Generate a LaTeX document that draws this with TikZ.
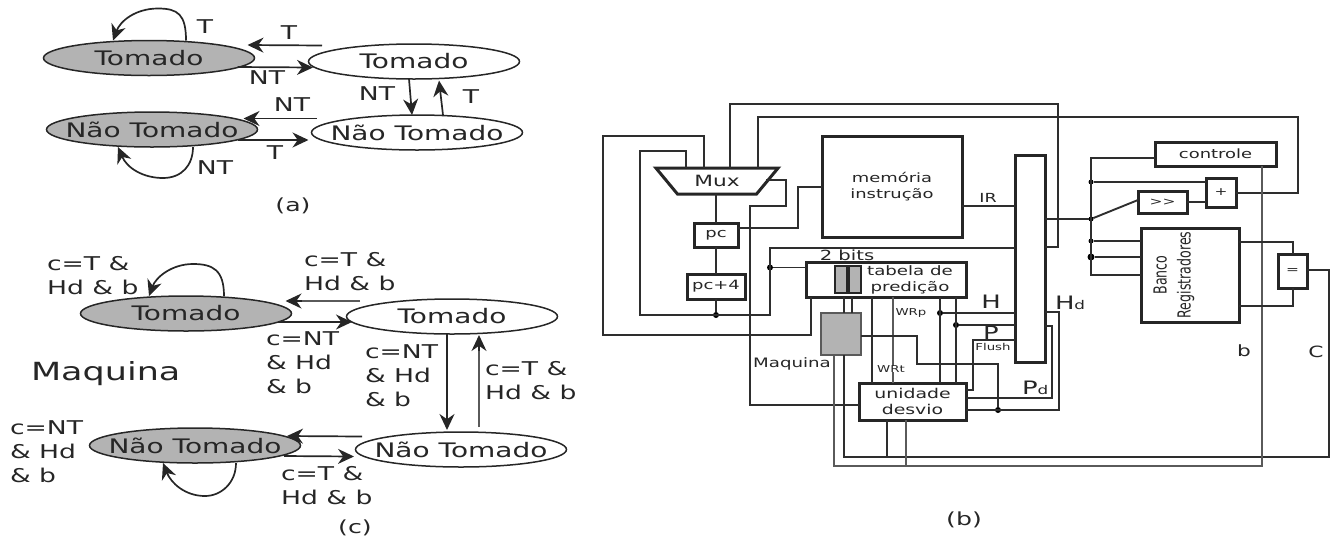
\documentclass[tikz,border=0pt]{standalone}
\usepackage{fontspec}
\setmainfont[FakeStretch=1.4]{DejaVu Sans}
\newfontfamily\rotfont[FakeStretch=0.7]{DejaVu Sans}
\usetikzlibrary{shapes.geometric,arrows.meta,calc}
\definecolor{ink}{HTML}{262626}
\definecolor{shade}{HTML}{B3B3B3}
\definecolor{wire}{HTML}{2E2E2E}
\definecolor{greywire}{HTML}{5A5A5A}
\newcommand{\fsz}[1]{\fontsize{#1}{24}\selectfont}
\newcommand{\sbd}{{\fontsize{12}{12}\selectfont d}}
\tikzset{
  every node/.style={inner sep=0pt,outer sep=0pt,text=ink},
  st/.style={ellipse,draw=ink,line width=1.5pt,fill=white,minimum width=211,minimum height=35,font=\fsz{20}},
  stg/.style={st,fill=shade},
  arr/.style={draw=ink,line width=1.7pt,-{Stealth[length=16pt,width=15pt]}},
  garr/.style={arr,draw=greywire},
  lab/.style={font=\fsz{19},align=left,anchor=west},
  captxt/.style={font=\fsz{18}},
  box/.style={draw=ink,line width=3pt,fill=white,font=\fsz{12.8},align=center},
  wl/.style={draw=wire,line width=1.9pt},
  gw/.style={draw=greywire,line width=2.1pt},
  jdot/.style={circle,fill=black,minimum size=7pt},
  smalltxt/.style={font=\fsz{9.5}},
  bigtxt/.style={font=\fsz{18.5}}
}
\begin{document}
\begin{tikzpicture}[x=1pt,y=-1pt]
\useasboundingbox (0,0) rectangle (1330,542);
% ----- (a)
\node[stg] (A) at (149,58) {\makebox[0pt]{Tomado}};
\node[st] (B) at (414,61.5) {\makebox[0pt]{Tomado}};
\node[stg] (C) at (152,129.5) {\makebox[0pt]{Não Tomado}};
\node[st] (D) at (417,132.5) {\makebox[0pt]{Não Tomado}};
\draw[arr] ($(A.north)+(37,0)$) .. controls +(0,-26) and +(20,0) .. ($(A.north)+(9,-32)$) .. controls +(-23,0) and +(7,-19) .. ($(A.north)+(-36,0)$);
\draw[arr] ($(C.south)+(41,0)$) .. controls +(0,18) and +(19,0) .. ($(C.south)+(11,31)$) .. controls +(-20,0) and +(9,21) .. ($(C.south)+(-34,0)$);
\draw[arr] ($(B.west)+(13.5,-16)$) -- ($(A.east)+(-7,-13)$);
\draw[arr] ($(A.east)+(-17,9)$) -- ($(B.west)+(4.5,6)$);
\draw[arr] ($(B.south)+(-5,0)$) -- ($(D.north)+(-5,0)$);
\draw[arr] ($(D.north)+(26,0)$) -- ($(B.south)+(25,1.5)$);
\draw[arr] ($(D.west)+(5,-14)$) -- ($(C.east)+(-14,-11)$);
\draw[arr] ($(C.east)+(-20,10.5)$) -- ($(D.west)+(-3,7.5)$);
\node[lab,anchor=center] (at1) at (205,27) {T};
\node[lab,anchor=center] (at2) at (289,33) {T};
\node[lab,anchor=center] (at3) at (267,78) {NT};
\node[lab,anchor=center] (at4) at (377,94) {NT};
\node[lab,anchor=center] (at5) at (471,97) {T};
\node[lab,anchor=center] (at6) at (292,105) {NT};
\node[lab,anchor=center] (at7) at (275,153) {T};
\node[lab,anchor=center] (at8) at (215,168) {NT};
\node[captxt] (capa) at (293,206) {(a)};
% ----- (c)
\node[stg] (E) at (186,313.5) {\makebox[0pt]{Tomado}};
\node[st] (F) at (452,316.5) {\makebox[0pt]{Tomado}};
\node[stg] (G) at (195,445.5) {\makebox[0pt]{Não Tomado}};
\node[st] (H) at (461,449.5) {\makebox[0pt]{Não Tomado}};
\draw[arr] ($(E.north)+(38,0)$) .. controls +(0,-26) and +(20,0) .. ($(E.north)+(7,-32)$) .. controls +(-21,0) and +(7,-19) .. ($(E.north)+(-37,0)$);
\draw[arr] ($(G.south)+(41,0)$) .. controls +(0,20) and +(16,0) .. ($(G.south)+(10,33)$) .. controls +(-20,0) and +(8,20) .. ($(G.south)+(-32,0)$);
\draw[draw=greywire,line width=1.7pt] ($(F.west)+(13.5,-15.5)$) -- ($(E.east)+(10,-12.5)$);
\draw[arr] ($(E.east)+(10,-12.5)$) -- ($(E.east)+(-6,-12.5)$);
\draw[arr] ($(E.east)+(-13.5,8.5)$) -- ($(F.west)+(5.5,5.5)$);
\draw[arr] ($(F.south)+(-5,0)$) -- ($(H.north)+(-14,-2)$);
\draw[draw=greywire,line width=1.7pt] ($(H.north)+(18,-5)$) -- ($(F.south)+(27,17)$);
\draw[arr] ($(F.south)+(27,17)$) -- ($(F.south)+(27,1)$);
\draw[arr] ($(H.west)+(6.5,-13)$) -- ($(G.east)+(-13.5,-9.5)$);
\draw[arr] ($(G.east)+(-16.5,10.5)$) -- ($(H.west)+(-1.5,7)$);
\node[lab] (cl1) at (47,276) {c=T \&\\Hd \& b};
\node[lab] (cl2) at (304,271.5) {c=T \&\\Hd \& b};
\node[lab] (cl3) at (266,363) {c=NT\\\& Hd\\\& b};
\node[lab] (cl4) at (365,376) {c=NT\\\& Hd\\\& b};
\node[lab] (cl5) at (485,381) {c=T \&\\Hd \& b};
\node[lab] (cl6) at (10,452) {c=NT\\\& Hd\\\& b};
\node[lab] (cl7) at (281,486) {c=T \&\\Hd \& b};
\node[font=\fsz{25},anchor=west] (maq) at (31,374) {Maquina};
\node[captxt] (capc) at (355,528) {(c)};
% ----- (b) boxes
\node[trapezium,shape border rotate=180,trapezium stretches=true,trapezium left angle=43,trapezium right angle=43,draw=ink,line width=3pt,fill=white,minimum width=123,minimum height=26,font=\fsz{15.5}] (mux) at (717,181) {Mux};
\node[box,minimum width=44,minimum height=24] (pc) at (716,235) {pc};
\node[box,minimum width=58,minimum height=25] (pc4) at (716,286.5) {pc+4};
\node[box,minimum width=140,minimum height=101] (mem) at (892,186.5) {memória\\[-8pt]instrução};
\node[box,minimum width=30,minimum height=207] (bar) at (1030,258.5) {};
\node[box,minimum width=160,minimum height=35] (tab) at (886,279.5) {};
\node[font=\fsz{13},align=center] (tabtxt) at (910,279.5) {tabela de\\[-8pt]predição};
\node[draw=ink,line width=1.6pt,fill=shade,minimum width=12,minimum height=27] (b1) at (841,279.5) {};
\node[draw=ink,line width=1.6pt,fill=shade,minimum width=12,minimum height=27] (b2) at (855,279.5) {};
\node[font=\fsz{14}] (bits) at (847,255) {2 bits};
\node[draw=greywire,line width=2pt,fill=shade,minimum width=40,minimum height=42] (maqbox) at (841,334) {};
\node[font=\fsz{13}] (maqtxt) at (792,364) {Maquina};
\node[box,minimum width=107,minimum height=37,font=\fsz{13.5}] (uni) at (912.5,401.5) {unidade\\[-8pt]desvio};
\node[box,minimum width=121,minimum height=24] (ctl) at (1215.5,154) {controle};
\node[box,minimum width=30,minimum height=29,font=\fsz{11}] (plus) at (1221,192.5) {+};
\node[box,minimum width=49,minimum height=22,font=\fsz{11}] (shr) at (1162.5,202) {{>}{>}};
\node[box,minimum width=98,minimum height=94] (bank) at (1190,275) {};
\node[rotate=90,align=center,font=\rotfont\fontsize{18}{24}\selectfont] (banktxt) at (1174,275) {Banco\\Registradores};
\node[box,minimum width=29,minimum height=34,font=\fsz{11}] (eq) at (1292.5,271) {=};
% junctions
\node[jdot,minimum size=6pt] (j1) at (716,315) {};
\node[jdot,minimum size=6pt] (j2) at (770,267.5) {};
\node[jdot,minimum size=6pt] (j3) at (940,313) {};
\node[jdot,minimum size=6pt] (j4) at (956,325) {};
\node[jdot,minimum size=6pt] (j5) at (998,410) {};
\node[jdot,minimum size=5pt] (j6) at (1091,182) {};
\node[jdot,minimum size=5pt] (j7) at (1091,219) {};
\node[jdot,minimum size=5pt] (j8) at (1091,241) {};
\node[jdot,minimum size=7pt] (j9) at (1091,257) {};
% mux ports
\coordinate (m1) at (686,168);
\coordinate (m2) at (704,168);
\coordinate (m3) at (730,168);
\coordinate (m4) at (758,168);
\coordinate (m5) at (766,180);
% wires
\draw[wl] (m2) |- (603,136) |- (811,335) -- (tab.south -| 811,0);
\draw[wl] (m1) |- (640,151) |- (j1.center) -| (770,248) -- (bar.west |- 0,248);
\draw[wl] (m3) |- (1058,104) |- (bar.east |- 0,247);
\draw[wl] (m4) |- (1298,117) |- (plus.east |- 0,193);
\draw[wl] (m5) -| (786,206) -| (750,405) -- (uni.west |- 0,405);
\draw[wl] (mux.south -| 716,0) -- (pc.north);
\draw[wl] (pc.south) -- (pc4.north);
\draw[wl] (pc4.south) -- (j1);
\draw[wl] (pc.east |- 0,228) -| (798,187) -- (mem.west |- 0,187);
\draw[wl] (mem.east |- 0,206) -- (bar.west |- 0,206);
\draw[wl] (j2) -- (tab.west |- j2);
\draw[wl] (tab.south -| 844,0) -- (maqbox.north -| 844,0);
\draw[wl] (tab.south -| 852,0) -- (maqbox.north -| 852,0);
\draw[wl] (tab.south -| 872,0) -- (uni.north -| 872,0);
\draw[gw] (tab.south -| 893,0) -- (uni.north -| 893,0);
\draw[wl] (tab.south -| j3) -- (uni.north -| j3);
\draw[wl] (tab.south -| j4) -- (uni.north -| j4);
\draw[wl] (j3) -- (bar.west |- j3);
\draw[wl] (j4) -- (bar.west |- j4);
\draw[wl] (uni.east |- 0,390) -| (973,340) -- (bar.west |- 0,340);
\draw[wl] (maqbox.east |- 0,336) -| (917,364) -| (j5);
\draw[wl] (bar.east |- 0,312) -| (1059,410) -- (uni.east |- 0,410);
\draw[wl] (bar.east |- 0,326) -| (1052,398) -- (uni.east |- 0,398);
\draw[wl] (uni.south -| 887,0) -- (887,457);
\draw[wl] (maqbox.south -| 844,0) |- (1329,457) |- (eq.east |- 0,270);
\draw[gw] (maqbox.south -| 834,0) |- (1262,466) -- (ctl.south -| 1262,0);
\draw[gw] (uni.south -| 906,0) -- (906,466);
\draw[wl] (ctl.west |- 0,158) -| (1091,275) -- (bank.west |- 0,275);
\draw[wl] (j6) -- (plus.west |- j6);
\draw[wl] (bar.east |- j7) -- (j7);
\draw[wl] (j7) -- (shr.west |- 0,200);
\draw[wl] (shr.east |- 0,202) -- (plus.west |- 0,202);
\draw[wl] (j8) -- (bank.west |- j8);
\draw[wl] (j9) -- (bank.west |- j9);
\draw[wl] (bank.east |- 0,242) -| (eq.north -| 1293,0);
\draw[wl] (bank.east |- 0,306) -| (eq.south -| 1293,0);
% texts
\node[font=\fsz{12.5}] (ir) at (988,198) {IR};
\node[bigtxt] (hl) at (991,302) {H};
\node[bigtxt] (pl) at (991,333) {P};
\node[smalltxt] (fl) at (993,347) {Flush};
\node[smalltxt] (wrp) at (911,313) {WRp};
\node[smalltxt,fill=white] (wrt) at (891,369) {WRt};
\node[bigtxt,anchor=west] (hd) at (1055,303) {H\sbd};
\node[bigtxt,anchor=west] (pd) at (1022,388) {P\sbd};
\node[font=\fsz{15.5}] (bl) at (1244,351) {b};
\node[font=\fsz{15.5}] (cl) at (1316,352) {C};
\node[captxt] (capb) at (964,520) {(b)};
\end{tikzpicture}
\end{document}
